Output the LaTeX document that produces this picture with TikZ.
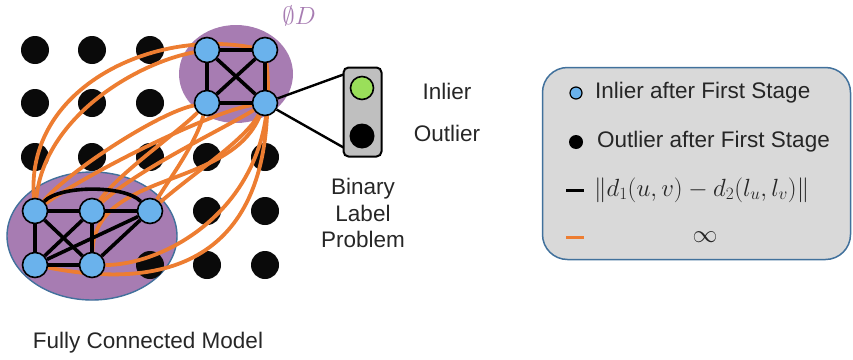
\documentclass[tikz,border=0pt]{standalone}
\usepackage{fontspec}
\setmainfont{Liberation Sans}
\usetikzlibrary{calc}
\definecolor{purp}{HTML}{A77CB2}
\definecolor{blu}{HTML}{6AB2EC}
\definecolor{org}{HTML}{ED7D31}
\definecolor{ebord}{HTML}{41719C}
\definecolor{grn}{HTML}{9ADF5A}
\definecolor{lgray}{HTML}{D9D9D9}
\definecolor{bgray}{HTML}{BFBFBF}
\definecolor{txt}{HTML}{262626}
\pgfdeclarelayer{lzero}
\pgfdeclarelayer{lone}
\pgfdeclarelayer{ltwo}
\pgfsetlayers{lzero,lone,ltwo,main}
\begin{document}
\begin{tikzpicture}[x=1pt,y=-1pt,
  inl/.style={circle,draw=black,line width=1.6pt,fill=blu,minimum size=25pt,inner sep=0pt},
  outl/.style={circle,fill=black!96,minimum size=28pt,inner sep=0pt},
  blk/.style={line width=3.6pt,black},
  orng/.style={line width=3.8pt,org},
  lbl/.style={font=\fontsize{22.5}{27}\selectfont,text=txt,inner sep=0pt}]
\useasboundingbox (0,0) rectangle (853,359);

% inlier nodes
\node[inl] (T1) at (207,50) {};
\node[inl] (T2) at (265,50) {};
\node[inl] (T3) at (207,103) {};
\node[inl] (T4) at (265,103) {};
\node[inl] (B1) at (35,211) {};
\node[inl] (B2) at (92,211) {};
\node[inl] (B3) at (150,211) {};
\node[inl] (B4) at (35,265) {};
\node[inl] (B5) at (92,265) {};

\begin{pgfonlayer}{lzero}
  \fill[purp] (236,74) ellipse [x radius=57pt, y radius=49pt];
  \draw[purp, fill=purp] (92,236) ellipse [x radius=85pt, y radius=64pt];
  \draw[ebord, line width=1.4pt] (92,236) ellipse [x radius=85pt, y radius=64pt];
\end{pgfonlayer}

\begin{pgfonlayer}{lone}
  \node[outl] (o11) at (35,50) {};
  \node[outl] (o12) at (92,50) {};
  \node[outl] (o13) at (150,50) {};
  \node[outl] (o21) at (35,103) {};
  \node[outl] (o22) at (92,103) {};
  \node[outl] (o23) at (150,103) {};
  \node[outl] (o31) at (35,157) {};
  \node[outl] (o32) at (92,157) {};
  \node[outl] (o33) at (150,157) {};
  \node[outl] (o34) at (207,157) {};
  \node[outl] (o35) at (265,157) {};
  \node[outl] (o44) at (207,211) {};
  \node[outl] (o45) at (265,211) {};
  \node[outl] (o53) at (150,265) {};
  \node[outl] (o54) at (207,265) {};
  \node[outl] (o55) at (265,265) {};
\end{pgfonlayer}

\begin{pgfonlayer}{ltwo}
  % orange (infinite) edges
  \draw[orng] (T2) .. controls (150,28) and (25,90) .. (B1);
  \draw[orng] (T1) .. controls (140,62) and (45,115) .. (B1);
  \draw[orng] (T3) .. controls (160,112) and (70,170) .. (B1);
  \draw[orng] (T4) .. controls (210,112) and (90,172) .. (B1);
  \draw[orng] (T3) .. controls (175,135) and (120,172) .. (B2);
  \draw[orng] (T4) .. controls (225,128) and (140,168) .. (B2);
  \draw[orng] (T3) .. controls (195,145) and (170,178) .. (B3);
  \draw[orng] (T4) .. controls (245,140) and (195,172) .. (B3);
  \draw[orng] (T4) .. controls (230,190) and (95,170) .. (B5);
  \draw[orng] (T2) .. controls (282,200) and (170,265) .. (B5);
  \draw[orng] (T2) .. controls (278,215) and (215,300) .. (B4);
  % black edges, top cluster
  \draw[blk] (T1) -- (T2);
  \draw[blk] (T1) -- (T3);
  \draw[blk] (T2) -- (T4);
  \draw[blk] (T3) -- (T4);
  \draw[blk] (T1) -- (T4);
  \draw[blk] (T2) -- (T3);
  % black edges, bottom cluster
  \draw[blk] (B1) -- (B2);
  \draw[blk] (B2) -- (B3);
  \draw[blk] (B1) -- (B4);
  \draw[blk] (B2) -- (B5);
  \draw[blk] (B4) -- (B5);
  \draw[blk] (B1) -- (B5);
  \draw[blk] (B2) -- (B4);
  \draw[blk] (B3) -- (B4);
  \draw[blk] (B3) -- (B5);
  \draw[blk] (B1) .. controls (60,185) and (125,185) .. (B3);
\end{pgfonlayer}

% empty-set label
\node[text=purp, font=\fontsize{26}{30}\selectfont, inner sep=0pt] (phiD) at (299,16) {$\emptyset D$};

% binary label box
\node[draw=black, line width=2pt, fill=bgray, rounded corners=5pt, minimum width=38pt, minimum height=89pt, inner sep=0pt] (box) at (362.5,112) {};
\node[circle, draw=black, line width=1.6pt, fill=grn, minimum size=23pt, inner sep=0pt] (gdot) at (362,88) {};
\node[circle, fill=black, minimum size=25pt, inner sep=0pt] (kdot) at (362,136) {};
\draw[line width=2.4pt] (T4) -- ($(box.north west)+(1,8)$);
\draw[line width=2.4pt] (T4) -- ($(box.south west)+(1,-10)$);

\node[lbl] (inl) at (447,91) {Inlier};
\node[lbl] (outl) at (447,133) {Outlier};
\node[lbl, align=center, font=\fontsize{22.5}{26.5}\selectfont] (blp) at (363,213) {Binary\\Label\\Problem};
\node[lbl] (fcm) at (148,343) {Fully Connected Model};

% legend
\node[draw=ebord, line width=1.5pt, fill=lgray, rounded corners=25pt, minimum width=308pt, minimum height=192pt, inner sep=0pt] (legend) at (696.5,163.5) {};
\node[circle, draw=black, line width=1.2pt, fill=blu, minimum size=12pt, inner sep=0pt] (lgin) at (576,93) {};
\node[lbl, anchor=west] (lgint) at (595,93) {Inlier after First Stage};
\node[circle, fill=black, minimum size=14pt, inner sep=0pt] (lgout) at (576,142) {};
\node[lbl, anchor=west] (lgoutt) at (597,142) {Outlier after First Stage};
\coordinate (kb1) at (566,190);
\coordinate (kb2) at (584,190);
\draw[line width=3pt] (kb1) -- (kb2);
\node[lbl, anchor=west, font=\fontsize{25}{30}\selectfont] (lgblk) at (594,190) {$\|d_1(u,v)-d_2(l_u,l_v)\|$};
\coordinate (ko1) at (566,237);
\coordinate (ko2) at (584,237);
\draw[line width=3pt, org] (ko1) -- (ko2);
\node[lbl, font=\fontsize{25}{30}\selectfont] (lginf) at (705,237) {$\infty$};
\end{tikzpicture}
\end{document}
